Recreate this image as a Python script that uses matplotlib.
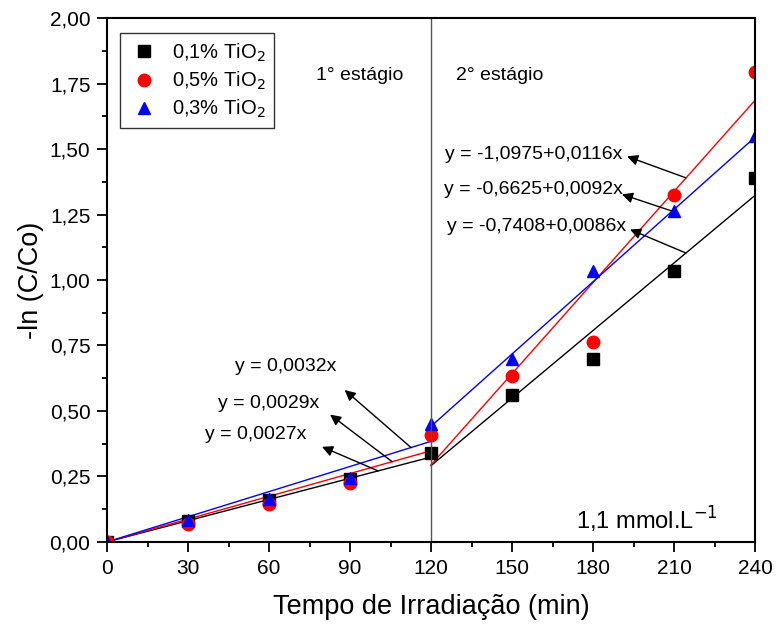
import matplotlib.pyplot as plt
from matplotlib.ticker import MultipleLocator, FuncFormatter
import numpy as np

plt.rcParams['font.family'] = ['Liberation Sans', 'DejaVu Sans']

tempo = [0, 30, 60, 90, 120, 150, 180, 210, 240]
tio2_01 = [0.00, 0.08, 0.16, 0.24, 0.34, 0.56, 0.70, 1.035, 1.39]
tio2_05 = [0.00, 0.07, 0.145, 0.225, 0.41, 0.635, 0.765, 1.325, 1.795]
tio2_03 = [0.00, 0.085, 0.165, 0.245, 0.45, 0.70, 1.035, 1.265, 1.55]

# 1st stage fits (y = a*x), 2nd stage fits (y = b + c*x)
slope1 = {'01': 0.0027, '05': 0.0029, '03': 0.0032}
inter2 = {'01': -0.7408, '05': -1.0975, '03': -0.6625}
slope2 = {'01': 0.0086, '05': 0.0116, '03': 0.0092}

fig = plt.figure(figsize=(7.76, 6.25), dpi=100)
ax = fig.add_axes([0.138, 0.133, 0.835, 0.838])

x1 = np.array([0, 120])
x2 = np.array([120, 240])
colors = {'01': 'black', '05': 'red', '03': 'blue'}
for k in ['01', '05', '03']:
    ax.plot(x1, slope1[k] * x1, color=colors[k], lw=1)
    ax.plot(x2, inter2[k] + slope2[k] * x2, color=colors[k], lw=1)

ax.plot(tempo, tio2_01, 's', color='black', ms=8, label='0,1% TiO$_2$')
ax.plot(tempo, tio2_05, 'o', color='red', ms=9, label='0,5% TiO$_2$')
ax.plot(tempo, tio2_03, '^', color='blue', ms=9, label='0,3% TiO$_2$')

ax.axvline(120, color='#555555', lw=1)

ax.set_xlim(0, 240)
ax.set_ylim(0, 2.0)
ax.xaxis.set_major_locator(MultipleLocator(30))
ax.xaxis.set_minor_locator(MultipleLocator(15))
ax.yaxis.set_major_locator(MultipleLocator(0.25))
ax.yaxis.set_minor_locator(MultipleLocator(0.125))
ax.yaxis.set_major_formatter(FuncFormatter(lambda v, p: f'{v:.2f}'.replace('.', ',')))
ax.tick_params(which='major', direction='out', length=7, width=1.3, labelsize=15, pad=5)
ax.tick_params(which='minor', direction='out', length=3.5, width=1.3)
for s in ax.spines.values():
    s.set_linewidth(1.5)

ax.set_xlabel('Tempo de Irradiação (min)', fontsize=19.5, labelpad=12)
ax.set_ylabel('-ln (C/Co)', fontsize=19.5, labelpad=4)

leg = ax.legend(loc='upper left', bbox_to_anchor=(0.02, 0.971), borderaxespad=0,
                fontsize=14.5, frameon=True, fancybox=False, edgecolor='black',
                handletextpad=0.6, borderpad=0.4, labelspacing=0.3, handlelength=1.6)
leg.get_frame().set_linewidth(1)

ax.text(93.7, 1.78, '1° estágio', ha='center', va='center', fontsize=14)
ax.text(145.6, 1.78, '2° estágio', ha='center', va='center', fontsize=14)
ax.text(200, 0.085, '1,1 mmol.L$^{-1}$', ha='center', va='center', fontsize=17)

arrow = dict(arrowstyle='-|>', color='black', lw=1, mutation_scale=16, shrinkA=0, shrinkB=0)
annots = [
    ('y = 0,0032x', (66, 0.67), (88, 0.58), (112.6, 0.36)),
    ('y = 0,0029x', (60, 0.53), (82.6, 0.486), (105.6, 0.306)),
    ('y = 0,0027x', (55, 0.41), (79.6, 0.363), (100.4, 0.271)),
    ('y = -1,0975+0,0116x', (158, 1.48), (192.6, 1.472), (214.4, 1.39)),
    ('y = -0,6625+0,0092x', (158, 1.346), (190.7, 1.327), (209.3, 1.263)),
    ('y = -0,7408+0,0086x', (159, 1.205), (193.7, 1.193), (214.4, 1.103)),
]
for txt, tpos, head, tail in annots:
    ax.text(tpos[0], tpos[1], txt, ha='center', va='center', fontsize=14)
    ax.annotate('', xy=head, xytext=tail, arrowprops=arrow)

plt.savefig('out.png', dpi=100)
